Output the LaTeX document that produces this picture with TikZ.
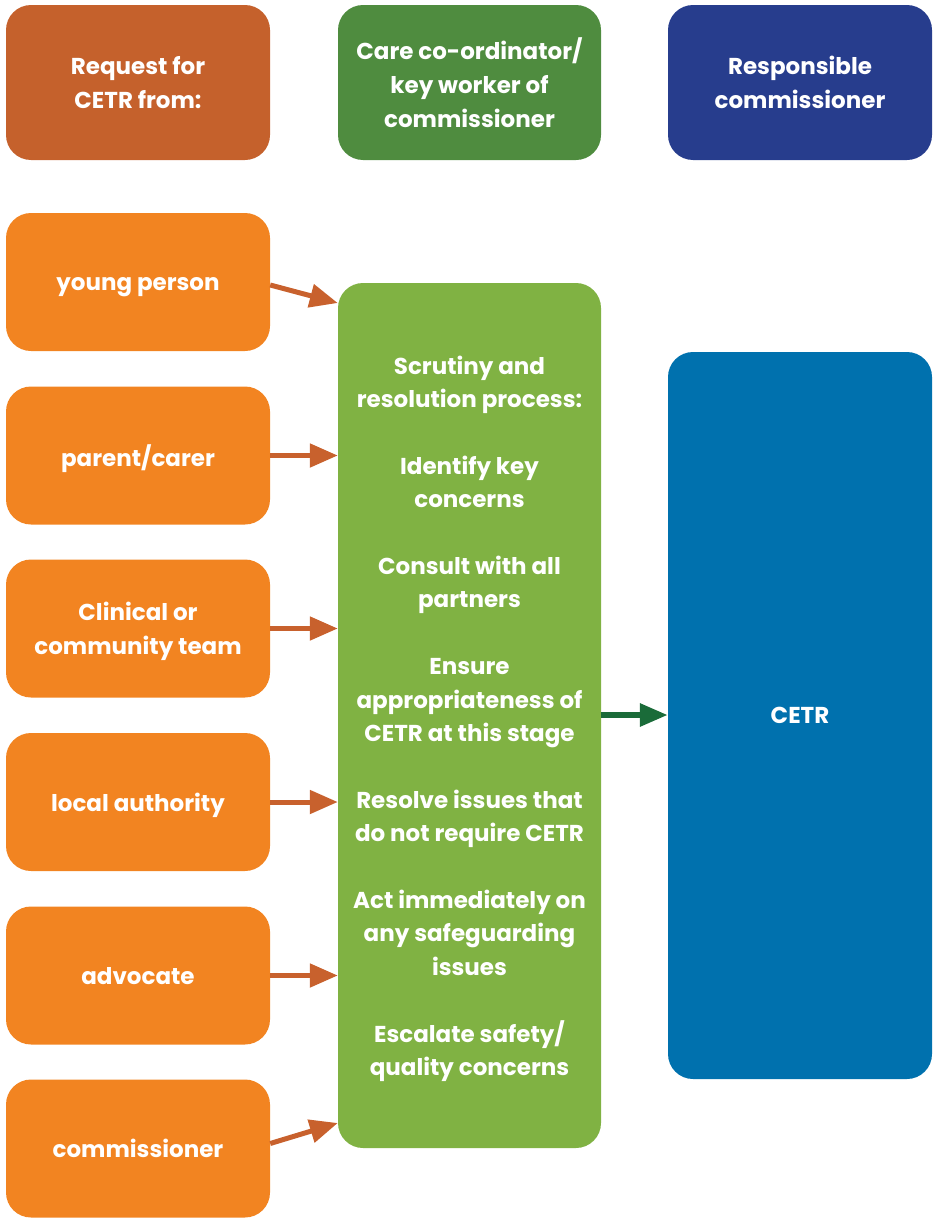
\documentclass[tikz,border=0pt]{standalone}
\usepackage{fontspec}
\setmainfont{Poppins}
\usetikzlibrary{arrows.meta}
\definecolor{hdrA}{HTML}{C5612C}
\definecolor{hdrB}{HTML}{4F8C3F}
\definecolor{hdrC}{HTML}{273D8D}
\definecolor{srcbox}{HTML}{F28421}
\definecolor{procbox}{HTML}{80B243}
\definecolor{cetrbox}{HTML}{0071AE}
\definecolor{arrA}{HTML}{C8612D}
\definecolor{arrB}{HTML}{1A6B39}
\tikzset{
  rbox/.style={rounded corners=25pt, inner sep=0pt, text=white, align=center,
    font=\fontsize{23}{34}\selectfont\bfseries, text depth=-1.5pt,
    execute at begin node=\vphantom{A}},
  srcnode/.style={rbox, fill=srcbox, minimum width=264pt, minimum height=138pt},
  srcarrow/.style={draw=arrA, line width=5pt, -{Triangle[length=28pt,width=23pt]}},
  outarrow/.style={draw=arrB, line width=6pt, -{Triangle[length=28pt,width=22pt]}}
}
\begin{document}
\begin{tikzpicture}[x=1pt,y=-1pt]
\useasboundingbox (0,0) rectangle (938,1218);
% headers
\node[rbox, fill=hdrA, minimum width=264pt, minimum height=155pt] (h1) at (138,82.5) {Request for\\CETR from:};
\node[rbox, fill=hdrB, minimum width=263pt, minimum height=155pt] (h2) at (469.5,82.5) {Care co-ordinator/\\key worker of\\commissioner};
\node[rbox, fill=hdrC, minimum width=264pt, minimum height=155pt] (h3) at (800,82.5) {Responsible\\commissioner};
% sources
\node[srcnode] (yp) at (138,282) {young person};
\node[srcnode] (pc) at (138,455.5) {parent/carer};
\node[srcnode] (ct) at (138,628.5) {Clinical or\\community team};
\node[srcnode] (la) at (138,802) {local authority};
\node[srcnode] (ad) at (138,975.5) {advocate};
\node[srcnode] (cm) at (138,1148.5) {commissioner};
% process
\node[rbox, fill=procbox, minimum width=263pt, minimum height=865pt,
  font=\fontsize{23}{33.4}\selectfont\bfseries] (pr) at (469.5,715.5)
  {Scrutiny and\\resolution process:\\[33.4pt]Identify key\\concerns\\[33.4pt]Consult with all\\partners\\[33.4pt]Ensure\\appropriateness of\\CETR at this stage\\[33.4pt]Resolve issues that\\do not require CETR\\[33.4pt]Act immediately on\\any safeguarding\\issues\\[33.4pt]Escalate safety/\\quality concerns};
% CETR
\node[rbox, fill=cetrbox, minimum width=264pt, minimum height=727pt] (ce) at (800,715.5) {CETR};
% arrows
\draw[srcarrow] ([yshift=-3pt]yp.east) -- (pr.west |- 0,303);
\draw[srcarrow] (pc.east) -- (pc.east -| pr.west);
\draw[srcarrow] (ct.east) -- (ct.east -| pr.west);
\draw[srcarrow] (la.east) -- (la.east -| pr.west);
\draw[srcarrow] (ad.east) -- (ad.east -| pr.west);
\draw[srcarrow] ([yshift=5pt]cm.east) -- (pr.west |- 0,1123);
\draw[outarrow] (pr.east |- 0,715) -- (ce.west |- 0,715);
\end{tikzpicture}
\end{document}
